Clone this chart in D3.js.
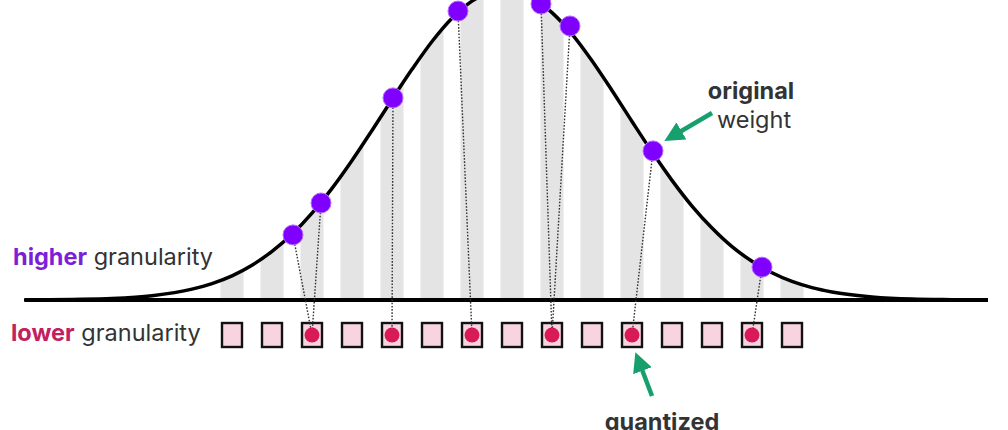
<!DOCTYPE html>
<meta charset="utf-8">
<body>
<script src="https://cdn.jsdelivr.net/npm/d3@7"></script>
<style>
    html, body {
        margin: 0;
        background: #fff;
    }
    text {
        font-family: Inter, "Noto Sans", sans-serif;
    }
</style>
<script>
// bins of the lower-granularity grid
var bins = d3.range(15);

// the bell curve: [bin position, relative height]
var curve = [
    [-5.2, 0], [-4, 0.002], [-3, 0.005], [-2, 0.014], [-1, 0.035], [-0.5, 0.053],
    [0, 0.078], [0.5, 0.112], [1, 0.157], [1.5, 0.212], [2, 0.28], [2.5, 0.36],
    [3, 0.45], [3.5, 0.547], [4, 0.647], [4.5, 0.744], [5, 0.834], [5.5, 0.909],
    [6, 0.964], [6.5, 0.994], [7, 0.998], [7.5, 0.975], [8, 0.927], [8.5, 0.858],
    [9, 0.772], [9.5, 0.676], [10, 0.576], [10.5, 0.478], [11, 0.386], [11.5, 0.303],
    [12, 0.232], [12.5, 0.172], [13, 0.125], [13.5, 0.088], [14, 0.06], [14.5, 0.04],
    [15, 0.026], [16, 0.01], [17, 0.003], [18, 0.001], [18.9, 0]
];

// original weights sitting on the curve
var weightX = [1.525, 2.225, 4.025, 5.65, 7.725, 8.45, 10.525, 13.25];
var weightY = [0.21, 0.313, 0.652, 0.932, 0.955, 0.884, 0.481, 0.106];
// bin each weight gets quantized to
var quantBin = [2, 2, 4, 6, 8, 8, 10, 13];

var width = 1008,
    height = 430,
    base = 300,
    rowY = 335,
    fs = 23.5;

var x = d3.scaleLinear().domain([0, 14]).range([232, 792]),
    y = d3.scaleLinear().domain([0, 1]).range([base, -10]);

var svg = d3.select("body").append("svg")
    .attr("width", width)
    .attr("height", height);

var defs = svg.append("defs");

var area = d3.area()
    .x(function(d) { return x(d[0]); })
    .y0(base)
    .y1(function(d) { return y(d[1]); })
    .curve(d3.curveMonotoneX);

var line = d3.line()
    .x(function(d) { return x(d[0]); })
    .y(function(d) { return y(d[1]); })
    .curve(d3.curveMonotoneX);

defs.append("clipPath").attr("id", "under")
    .append("path").attr("d", area(curve));

defs.append("marker")
    .attr("id", "head")
    .attr("viewBox", "0 0 10 10")
    .attr("refX", 2).attr("refY", 5)
    .attr("markerWidth", 4.4).attr("markerHeight", 4.4)
    .attr("orient", "auto")
    .append("path")
    .attr("d", "M0,0L10,5L0,10Z")
    .attr("fill", "#17a06e");

// gray stripes under the curve
svg.append("g").attr("clip-path", "url(#under)")
    .selectAll("rect")
    .data(bins)
    .enter().append("rect")
    .attr("x", function(d) { return x(d) - 11.5; })
    .attr("y", y(1.05))
    .attr("width", 23)
    .attr("height", base - y(1.05))
    .attr("fill", "#e4e4e4");

// baseline
svg.append("line")
    .attr("x1", x(-5.175)).attr("x2", x(18.9))
    .attr("y1", base).attr("y2", base)
    .attr("stroke", "#000")
    .attr("stroke-width", 4);

svg.append("path")
    .attr("d", line(curve))
    .attr("fill", "none")
    .attr("stroke", "#000")
    .attr("stroke-width", 3.5);

// lower granularity cells
svg.append("g").selectAll("rect")
    .data(bins)
    .enter().append("rect")
    .attr("x", function(d) { return x(d) - 10; })
    .attr("y", rowY - 12)
    .attr("width", 20)
    .attr("height", 24)
    .attr("fill", "#f7d4e0")
    .attr("stroke", "#111")
    .attr("stroke-width", 2.4);

// dotted links from weight to its bin
svg.append("g").selectAll("line")
    .data(weightX)
    .enter().append("line")
    .attr("x1", function(d) { return x(d); })
    .attr("y1", function(d, i) { return y(weightY[i]); })
    .attr("x2", function(d, i) { return x(quantBin[i]); })
    .attr("y2", rowY)
    .attr("stroke", "#333")
    .attr("stroke-width", 1.4)
    .attr("stroke-dasharray", "1.6,1.6");

svg.append("g").selectAll("circle")
    .data(Array.from(new Set(quantBin)))
    .enter().append("circle")
    .attr("cx", function(d) { return x(d); })
    .attr("cy", rowY)
    .attr("r", 7.5)
    .attr("fill", "#d81b57");

svg.append("g").selectAll("circle")
    .data(weightX)
    .enter().append("circle")
    .attr("cx", function(d) { return x(d); })
    .attr("cy", function(d, i) { return y(weightY[i]); })
    .attr("r", 10)
    .attr("fill", "#8000ff")
    .attr("stroke", "#b56dff")
    .attr("stroke-width", 1);

// labels
var hi = svg.append("text").attr("x", 13).attr("y", 265).attr("font-size", fs);
hi.append("tspan").attr("font-weight", 700).attr("fill", "#7c1fd6").text("higher");
hi.append("tspan").attr("fill", "#333").text(" granularity");

var lo = svg.append("text").attr("x", 11).attr("y", 341).attr("font-size", fs);
lo.append("tspan").attr("font-weight", 700).attr("fill", "#c22060").text("lower");
lo.append("tspan").attr("fill", "#333").text(" granularity");

svg.append("text").attr("x", 751).attr("y", 99)
    .attr("text-anchor", "middle").attr("font-size", fs).attr("font-weight", 700)
    .attr("fill", "#333").text("original");
svg.append("text").attr("x", 754).attr("y", 128)
    .attr("text-anchor", "middle").attr("font-size", fs)
    .attr("fill", "#333").text("weight");
svg.append("text").attr("x", 662).attr("y", 430)
    .attr("text-anchor", "middle").attr("font-size", fs).attr("font-weight", 700)
    .attr("fill", "#333").text("quantized");

// green arrows
svg.append("line")
    .attr("x1", 712).attr("y1", 113).attr("x2", 678).attr("y2", 133)
    .attr("stroke", "#17a06e").attr("stroke-width", 4.5)
    .attr("marker-end", "url(#head)");
svg.append("line")
    .attr("x1", 652).attr("y1", 396).attr("x2", 641).attr("y2", 367)
    .attr("stroke", "#17a06e").attr("stroke-width", 4.5)
    .attr("marker-end", "url(#head)");
</script>
